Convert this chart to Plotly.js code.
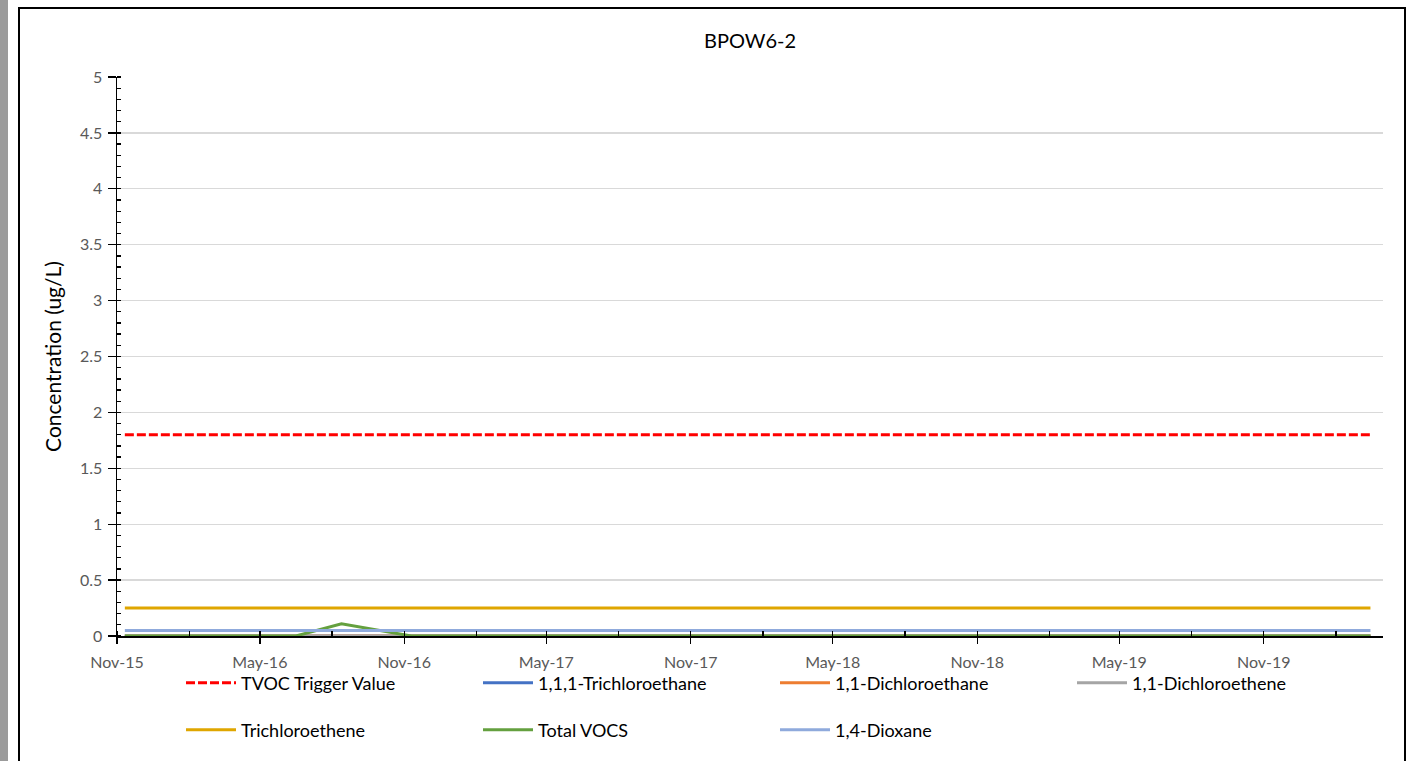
<!DOCTYPE html>
<html>
<head>
<meta charset="utf-8">
<script src="https://cdn.plot.ly/plotly-3.0.1.min.js"></script>
<style>
  html, body { margin: 0; padding: 0; background: #ffffff; }
  #wrap { position: relative; width: 1410px; height: 761px; overflow: hidden; }
  #chart { position: absolute; left: 0; top: 0; width: 1410px; height: 761px; }
  #strip { position: absolute; left: 0; top: 0; width: 8px; height: 761px; background: #9b9b9b; }
  #frame { position: absolute; left: 18px; top: 7px; width: 1384px; height: 780px;
           border: 2px solid #000; pointer-events: none; }
</style>
</head>
<body>
<div id="wrap">
  <div id="chart"></div>
  <div id="strip"></div>
  <div id="frame"></div>
</div>
<script>
// Sampling dates for well BPOW6-2
const sampleDates = [
  '2015-11-11', '2016-02-17', '2016-06-16', '2016-08-13', '2016-11-10',
  '2017-02-15', '2017-05-17', '2017-08-16', '2017-11-15', '2018-02-14',
  '2018-05-16', '2018-08-15', '2018-11-14', '2019-02-13', '2019-05-15',
  '2019-08-14', '2019-11-13', '2020-03-16'
];

// Concentrations in ug/L
const tvocTrigger = [1.8, 1.8, 1.8, 1.8, 1.8, 1.8, 1.8, 1.8, 1.8, 1.8, 1.8, 1.8, 1.8, 1.8, 1.8, 1.8, 1.8, 1.8];
const trichloroethane111 = [0, 0, 0, 0, 0, 0, 0, 0, 0, 0, 0, 0, 0, 0, 0, 0, 0, 0];
const dichloroethane11 = [0, 0, 0, 0, 0, 0, 0, 0, 0, 0, 0, 0, 0, 0, 0, 0, 0, 0];
const dichloroethene11 = [0, 0, 0, 0, 0, 0, 0, 0, 0, 0, 0, 0, 0, 0, 0, 0, 0, 0];
const trichloroethene = [0.25, 0.25, 0.25, 0.25, 0.25, 0.25, 0.25, 0.25, 0.25, 0.25, 0.25, 0.25, 0.25, 0.25, 0.25, 0.25, 0.25, 0.25];
const totalVocs = [0, 0, 0, 0.11, 0, 0, 0, 0, 0, 0, 0, 0, 0, 0, 0, 0, 0, 0];
const dioxane14 = [0.05, 0.05, 0.05, 0.05, 0.05, 0.05, 0.05, 0.05, 0.05, 0.05, 0.05, 0.05, 0.05, 0.05, 0.05, 0.05, 0.05, 0.05];

const yTicks = [0, 0.5, 1, 1.5, 2, 2.5, 3, 3.5, 4, 4.5, 5];
const yTickText = ['0', '0.5', '1', '1.5', '2', '2.5', '3', '3.5', '4', '4.5', '5'];
const xRange = ['2015-11-01', '2020-04-01'];
const yRange = [0, 5];

const FONT = 'Lato, "Open Sans", sans-serif';
const LW = 3;

function series(name, y, color, legend, dash) {
  return {
    type: 'scatter', mode: 'lines', name: name,
    x: sampleDates, y: y,
    line: { color: color, width: LW, dash: dash || 'solid' },
    legend: legend,
    hoverinfo: 'x+y+name'
  };
}

const traces = [
  series('TVOC Trigger Value', tvocTrigger, '#ff0000', 'legend', '9px,3px'),
  series('1,1,1-Trichloroethane', trichloroethane111, '#4472c4', 'legend'),
  series('1,1-Dichloroethane', dichloroethane11, '#ed7d31', 'legend'),
  series('1,1-Dichloroethene', dichloroethene11, '#a5a5a5', 'legend'),
  series('Trichloroethene', trichloroethene, '#dfa600', 'legend2'),
  series('Total VOCS', totalVocs, '#64a03f', 'legend2'),
  series('1,4-Dioxane', dioxane14, '#8faadc', 'legend2')
];

const W = 1410, H = 761;
const L = 117, R = 27, T = 77, B = 125;
const plotW = W - L - R, plotH = H - T - B;
function px(xp) { return (xp - L) / plotW; }
function py(yp) { return (H - B - yp) / plotH; }

const legendCommon = {
  orientation: 'h',
  xanchor: 'left', yanchor: 'middle',
  entrywidth: 232, entrywidthmode: 'pixels',
  itemwidth: 50,
  font: { family: FONT, size: 18, color: '#000000' },
  bgcolor: 'rgba(0,0,0,0)',
  itemclick: false, itemdoubleclick: false
};

const layout = {
  width: W, height: H,
  margin: { l: L, r: R, t: T, b: B, pad: 0 },
  paper_bgcolor: '#ffffff',
  plot_bgcolor: '#ffffff',
  title: {
    text: 'BPOW6-2',
    font: { family: FONT, size: 20, color: '#000000' },
    x: 0.5, xref: 'paper', xanchor: 'center',
    y: 1 - 41 / H, yref: 'container', yanchor: 'middle'
  },
  xaxis: {
    type: 'date',
    range: xRange,
    tick0: '2015-11-01', dtick: 'M6',
    tickformat: '%b-%y',
    ticks: 'outside', ticklen: 6, tickwidth: 1.3, tickcolor: '#000000',
    minor: { tick0: '2015-11-01', dtick: 'M3', ticks: 'inside', ticklen: 5, tickwidth: 1.3, tickcolor: '#000000', showgrid: false },
    showline: true, linecolor: '#000000', linewidth: 1.5,
    showgrid: false, zeroline: false,
    tickfont: { family: FONT, size: 16, color: '#595959' },
    ticklabelstandoff: 5
  },
  // companion axes: give the major ticks their inner half so they cross the axis lines
  xaxis2: {
    type: 'date', overlaying: 'x', anchor: 'y',
    range: xRange,
    tick0: '2015-11-01', dtick: 'M6',
    ticks: 'inside', ticklen: 5, tickwidth: 1.3, tickcolor: '#000000',
    showticklabels: false, showgrid: false, zeroline: false, showline: false
  },
  yaxis2: {
    overlaying: 'y', anchor: 'x', side: 'left',
    range: yRange,
    tickmode: 'array', tickvals: yTicks,
    ticks: 'inside', ticklen: 3, tickwidth: 1.3, tickcolor: '#000000',
    showticklabels: false, showgrid: false, zeroline: false, showline: false
  },
  yaxis: {
    range: yRange,
    tickmode: 'array', tickvals: yTicks, ticktext: yTickText,
    ticks: 'outside', ticklen: 8, tickwidth: 1.3, tickcolor: '#000000',
    minor: { tick0: 0, dtick: 0.1, ticks: 'inside', ticklen: 4, tickwidth: 1.3, tickcolor: '#000000', showgrid: false },
    showline: true, linecolor: '#000000', linewidth: 1.5,
    showgrid: true, gridcolor: '#d9d9d9', gridwidth: 1.3,
    zeroline: false,
    tickfont: { family: FONT, size: 16, color: '#595959' },
    ticklabelstandoff: 2,
    title: {
      text: 'Concentration (ug/L)',
      font: { family: FONT, size: 21, color: '#000000' },
      standoff: 12
    }
  },
  legend: Object.assign({}, legendCommon, { x: px(181), y: py(683) }),
  legend2: Object.assign({}, legendCommon, { x: px(181), y: py(730) }),
  showlegend: true
};

Plotly.newPlot('chart', traces, layout, { staticPlot: true, displayModeBar: false });
</script>
</body>
</html>
